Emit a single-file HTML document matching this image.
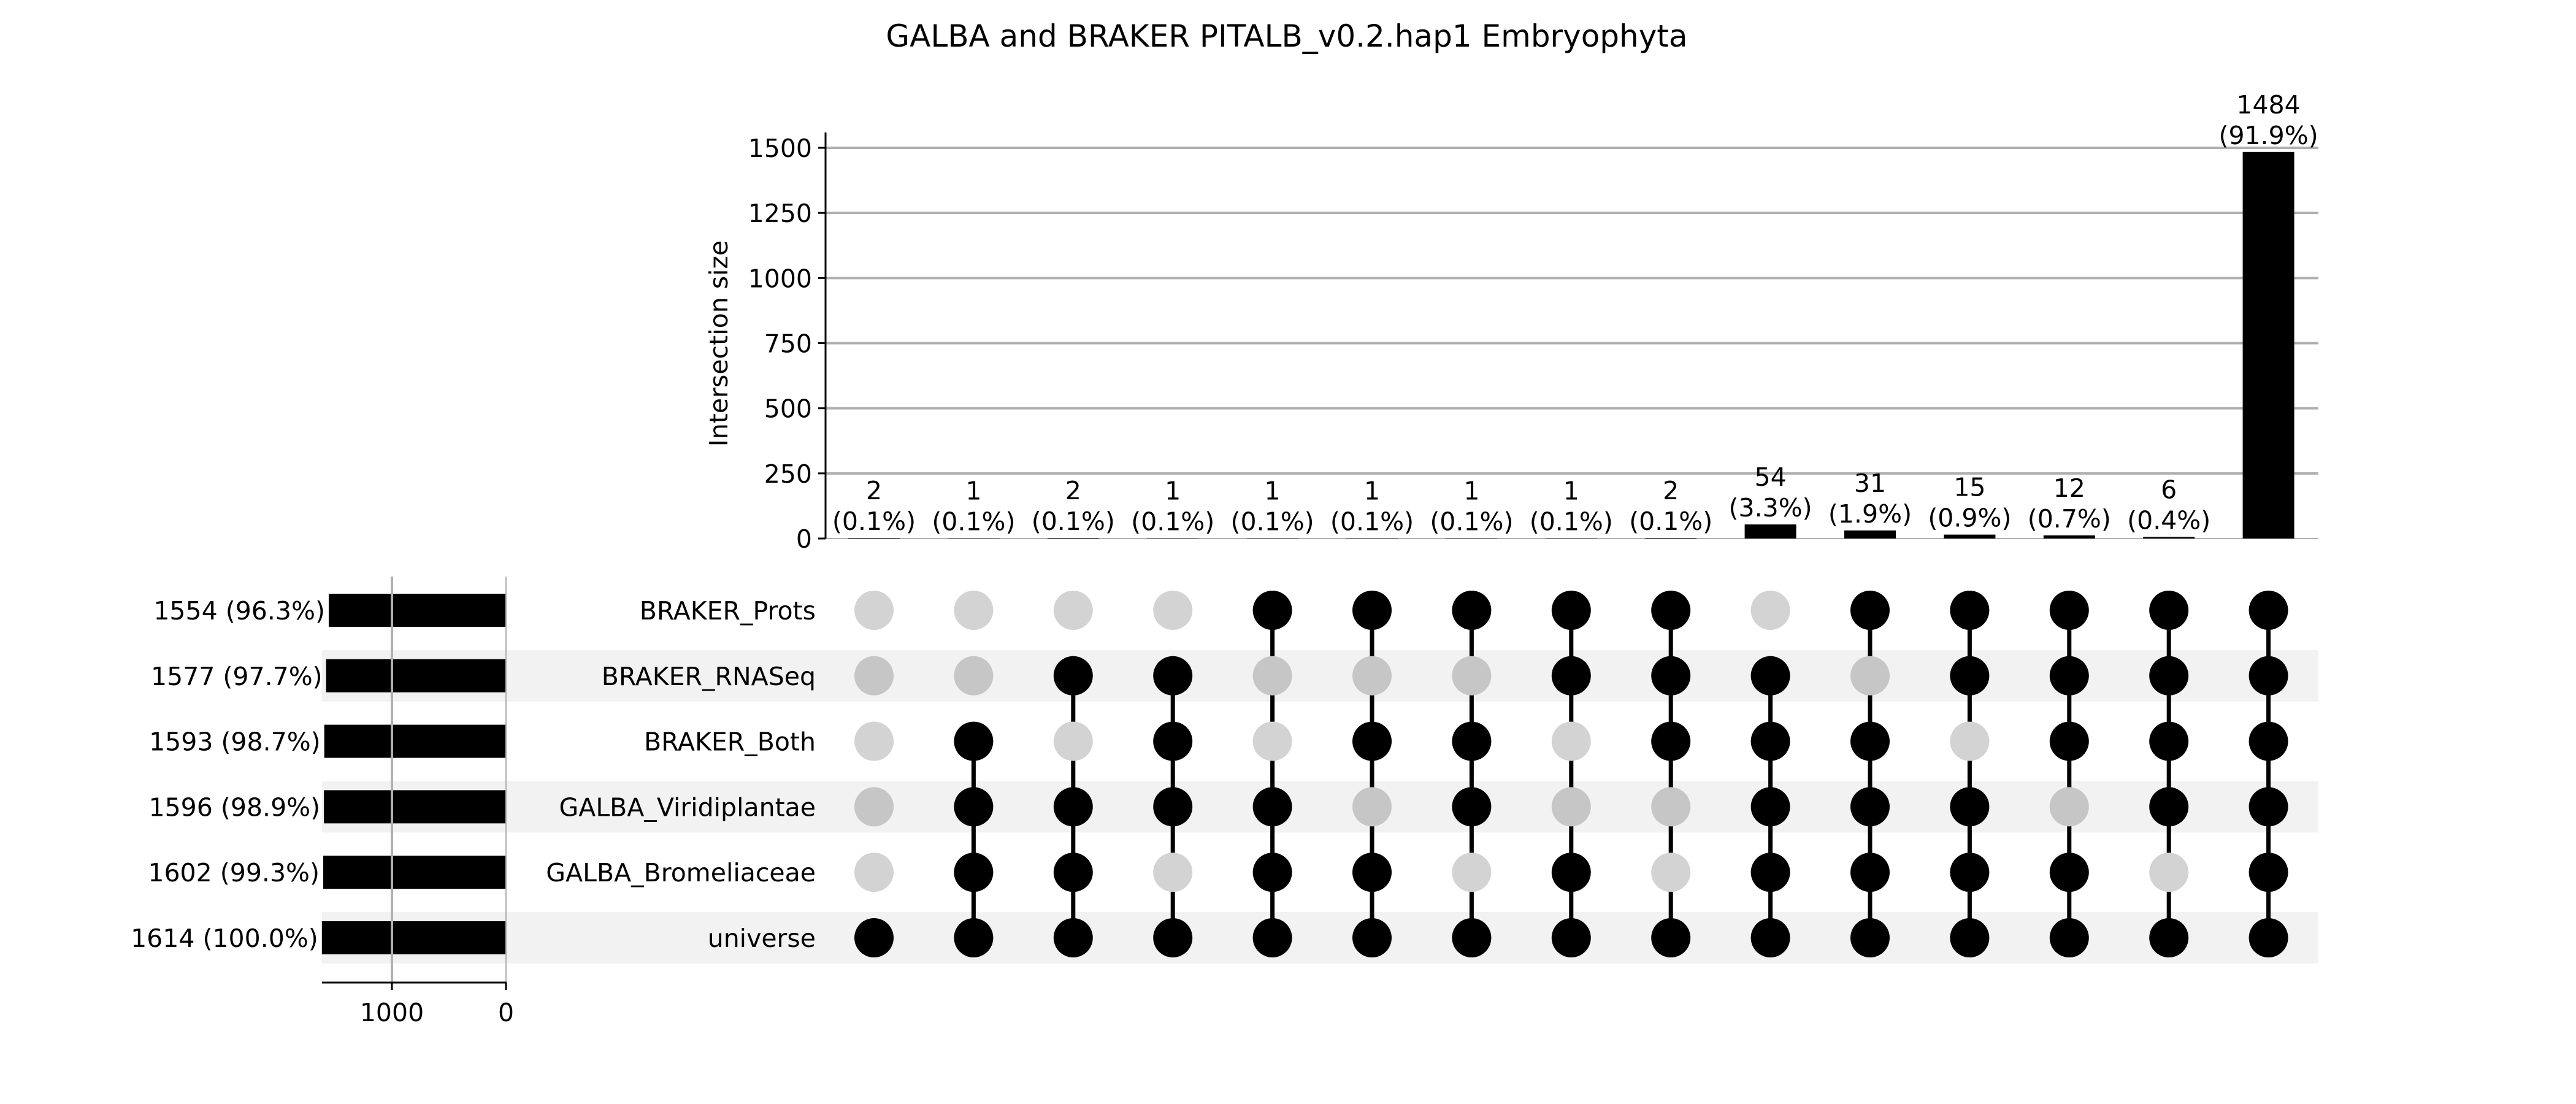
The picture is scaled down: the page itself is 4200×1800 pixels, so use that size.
<!DOCTYPE html>
<html><head><meta charset="utf-8">
<style>
html,body{margin:0;padding:0;background:#fff;}
svg{display:block;font-family:"DejaVu Sans","Liberation Sans",sans-serif;}
</style></head>
<body>
<svg id="chart" width="4200" height="1800" viewBox="0 0 4200 1800" xmlns="http://www.w3.org/2000/svg">
<text x="2098" y="76" font-size="50" text-anchor="middle">GALBA and BRAKER PITALB_v0.2.hap1 Embryophyta</text>
<text transform="translate(1186,560) rotate(-90)" font-size="41" text-anchor="middle">Intersection size</text>
<g id="g-bands"></g>
<g id="g-grid"></g>
<g id="g-bars"></g>
<g id="g-matrix"></g>
<g id="g-sets"></g>
</svg>
<script>
const setNames = ["BRAKER_Prots","BRAKER_RNASeq","BRAKER_Both","GALBA_Viridiplantae","GALBA_Bromeliaceae","universe"];
const setSizes = [1554,1577,1593,1596,1602,1614];
const setPcts = ["96.3%","97.7%","98.7%","98.9%","99.3%","100.0%"];
const interValues = [2,1,2,1,1,1,1,1,2,54,31,15,12,6,1484];
const interPcts = ["0.1%","0.1%","0.1%","0.1%","0.1%","0.1%","0.1%","0.1%","0.1%","3.3%","1.9%","0.9%","0.7%","0.4%","91.9%"];
// membership per intersection: [Prots,RNASeq,Both,Viri,Brom,universe]
const membership = [
 [0,0,0,0,0,1],[0,0,1,1,1,1],[0,1,0,1,1,1],[0,1,1,1,0,1],[1,0,0,1,1,1],
 [1,0,1,0,1,1],[1,0,1,1,0,1],[1,1,0,0,1,1],[1,1,1,0,0,1],[0,1,1,1,1,1],
 [1,0,1,1,1,1],[1,1,0,1,1,1],[1,1,1,0,1,1],[1,1,1,1,0,1],[1,1,1,1,1,1]];
const yTicks = [0,250,500,750,1000,1250,1500];
const setTicks = [1000,0];

const NS="http://www.w3.org/2000/svg";
const FS=41;
function mk(parent,tag,attrs,text){const e=document.createElementNS(NS,tag);for(const k in attrs)e.setAttribute(k,attrs[k]);if(text!==undefined)e.textContent=text;parent.appendChild(e);return e;}
const axL=1346, axR=3780, y0=878, yTop=241;
const yS=v=>y0-(v/1500)*(y0-yTop);
const colX=i=>1425+i*162.4;
const rowY=r=>995+r*106.8;
const setX0=825, setScale=186/1000;
const sx=v=>setX0-v*setScale;

const gb=document.getElementById('g-bands');
setNames.forEach((n,r)=>{ if(r%2===1){
 const b=mk(gb,'rect',{x:525,y:rowY(r)-42,width:axR-525,height:84,fill:'#f2f2f2'});
 
 
}});

const gg=document.getElementById('g-grid');
yTicks.forEach(t=>{
 const l=mk(gg,'line',{x1:axL,x2:axR,y1:yS(t),y2:yS(t),stroke:'#b0b0b0','stroke-width':t===0?2:4});
 
 
 const tk=mk(gg,'line',{x1:axL-12,x2:axL,y1:yS(t),y2:yS(t),stroke:'#000','stroke-width':3});
 
 
 const tx=mk(gg,'text',{x:axL-22,y:yS(t)+15,'font-size':FS,'text-anchor':'end'},String(t));
 
 
});
const ax=mk(gg,'line',{x1:axL,x2:axL,y1:216,y2:y0,stroke:'#000','stroke-width':3});



const gbar=document.getElementById('g-bars');
interValues.forEach((v,i)=>{
 const r=mk(gbar,'rect',{x:colX(i)-42,y:yS(v),width:84,height:y0-yS(v),fill:'#000'});
 
 
 const t1=mk(gbar,'text',{x:colX(i),y:yS(v)-63,'font-size':FS,'text-anchor':'middle'},String(v));
 
 
 const t2=mk(gbar,'text',{x:colX(i),y:yS(v)-13,'font-size':FS,'text-anchor':'middle'},'('+interPcts[i]+')');
 
 
});

const gm=document.getElementById('g-matrix');
membership.forEach((m,i)=>{
 const act=[];m.forEach((a,r)=>{if(a)act.push(r);});
 if(act.length>1){
  const l=mk(gm,'line',{x1:colX(i),x2:colX(i),y1:rowY(act[0]),y2:rowY(act[act.length-1]),stroke:'#000','stroke-width':7});
  
  
 }
 m.forEach((a,r)=>{
  const c=mk(gm,'circle',{cx:colX(i),cy:rowY(r),r:32,fill:a?'#000':(r%2===1?'#c6c6c6':'#d3d3d3')});
  
  
 });
});

const gs=document.getElementById('g-sets');
setNames.forEach((n,r)=>{
 const b=mk(gs,'rect',{x:sx(setSizes[r]),y:rowY(r)-27,width:setX0-sx(setSizes[r]),height:54,fill:'#000'});
 
 
 const t=mk(gs,'text',{x:sx(setSizes[r])-6,y:rowY(r)+15,'font-size':FS,'text-anchor':'end'},setSizes[r]+' ('+setPcts[r]+')');
 
 
 const nl=mk(gs,'text',{x:1330,y:rowY(r)+15,'font-size':FS,'text-anchor':'end'},n);
 
 
});
setTicks.forEach(t=>{
 const g=mk(gs,'line',{x1:sx(t),x2:sx(t),y1:940,y2:1602,stroke:'#b0b0b0','stroke-width':t===0?2:4});
 
 
 const tk=mk(gs,'line',{x1:sx(t),x2:sx(t),y1:1602,y2:1614,stroke:'#000','stroke-width':3});
 
 
 const tx=mk(gs,'text',{x:sx(t),y:1665,'font-size':FS,'text-anchor':'middle'},String(t));
 
 
});
const sax=mk(gs,'line',{x1:525,x2:setX0+1,y1:1602,y2:1602,stroke:'#000','stroke-width':3});


</script>
</body></html>
